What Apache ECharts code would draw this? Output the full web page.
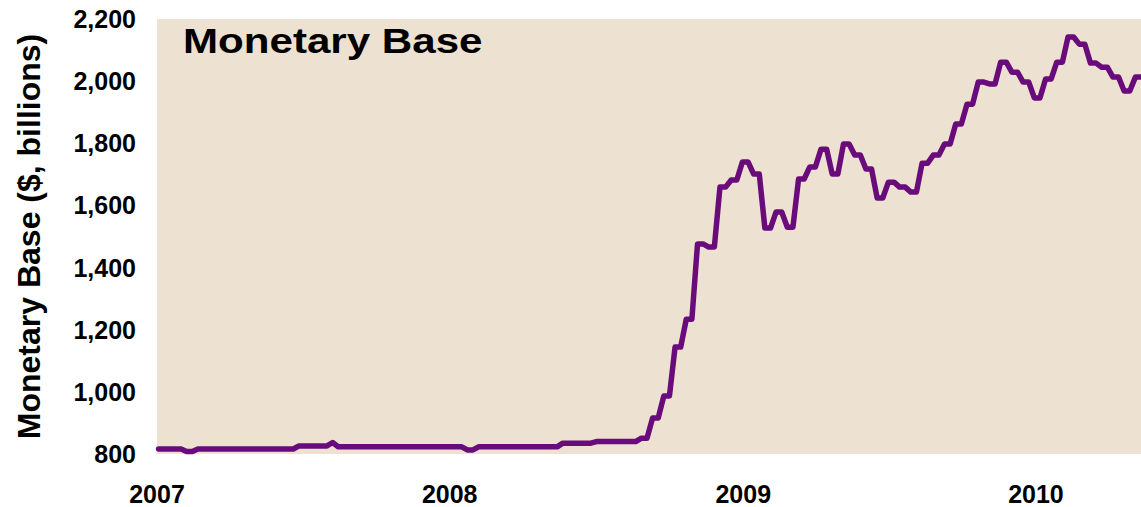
<!DOCTYPE html>
<html>
<head>
<meta charset="utf-8">
<script src="https://cdn.jsdelivr.net/npm/echarts@6/dist/echarts.min.js"></script>
<style>
  html, body { margin: 0; padding: 0; background: #ffffff; }
  #chart { width: 1141px; height: 507px; }
</style>
</head>
<body>
<div id="chart"></div>
<script>
// Weekly observations starting on the first Wednesday of 2007
const startDate = [2007, 0, 3];
const titleText = 'Monetary Base';
const yAxisTitle = 'Monetary Base ($, billions)';
const yTicks = [800, 1000, 1200, 1400, 1600, 1800, 2000, 2200];
const xYearLabels = ['2007', '2008', '2009', '2010'];

// Monetary base, $ billions (weekly)
const baseValues = [
  816, 816, 816, 816, 816, 808, 808, 816,
  816, 816, 816, 816, 816, 816, 816, 816, 816, 816, 816, 816, 816, 816, 816, 816, 816,
  826, 826, 826, 826, 826, 826, 837,
  823, 823, 823, 823, 823, 823, 823, 823, 823, 823, 823, 823, 823, 823, 823, 823, 823, 823, 823, 823, 823, 823, 823,
  813, 813,
  823, 823, 823, 823, 823, 823, 823, 823, 823, 823, 823, 823, 823, 823, 823,
  835, 835, 835, 835, 835, 835,
  840, 840, 840, 840, 840, 840, 840, 840,
  851, 851,
  916, 916, 987, 987, 1144, 1144, 1234, 1234,
  1476, 1476, 1466, 1466, 1659, 1659, 1682, 1682,
  1740, 1740, 1701, 1701, 1527, 1527, 1579, 1579,
  1530, 1530, 1685, 1685, 1724, 1724, 1781, 1781,
  1701, 1701, 1798, 1798, 1762, 1762, 1717, 1717,
  1624, 1624, 1675, 1675, 1659, 1659, 1643, 1643,
  1736, 1736, 1762, 1762, 1798, 1798, 1862, 1862,
  1926, 1926, 1997, 1997, 1991, 1991, 2061, 2061,
  2029, 2029, 1997, 1997, 1946, 1946, 2007, 2007,
  2061, 2061, 2142, 2142, 2119, 2119, 2058, 2058,
  2045, 2045, 2013, 2013, 1968, 1968, 2013, 2013
];

function weekDate(i) {
  const d = new Date(startDate[0], startDate[1], startDate[2] + 7 * i);
  return d.getFullYear() + '-' + String(d.getMonth() + 1).padStart(2, '0') + '-' + String(d.getDate()).padStart(2, '0');
}
const weeks = baseValues.map((_, i) => weekDate(i));
const seriesData = weeks.map((d, i) => [d, baseValues[i]]);

const chart = echarts.init(document.getElementById('chart'), null, { renderer: 'svg' });
const FONT = '"Liberation Sans", Arial, Helvetica, sans-serif';

chart.setOption({
  backgroundColor: '#ffffff',
  animation: false,
  grid: {
    left: 157, right: 0, top: 19, bottom: 53,
    show: true, backgroundColor: '#ede2d1', borderWidth: 0
  },
  graphic: [{
    type: 'text',
    x: 183, y: 23,
    scaleX: 1.17,
    style: {
      text: titleText,
      fill: '#000000',
      font: 'bold 36px ' + FONT,
      textVerticalAlign: 'top'
    },
    z: 10
  }],
  xAxis: {
    type: 'time',
    min: '2007-01-01',
    max: '2010-05-12',
    minInterval: 365 * 24 * 3600 * 1000,
    axisLine: { show: false },
    axisTick: { show: false },
    splitLine: { show: false },
    axisLabel: {
      margin: 27,
      showMaxLabel: false,
      color: '#000000',
      fontFamily: FONT,
      fontWeight: 'bold',
      fontSize: 25,
      formatter: function (val) {
        const d = new Date(val);
        if (d.getMonth() === 0 && d.getDate() === 1) {
          const s = String(d.getFullYear());
          return xYearLabels.indexOf(s) >= 0 ? s : '';
        }
        return '';
      }
    }
  },
  yAxis: {
    type: 'value',
    min: yTicks[0],
    max: yTicks[yTicks.length - 1],
    interval: 200,
    name: yAxisTitle,
    nameLocation: 'middle',
    nameGap: 112,
    nameTextStyle: {
      color: '#000000',
      fontFamily: FONT,
      fontWeight: 'bold',
      fontSize: 32
    },
    axisLine: { show: false },
    axisTick: { show: false },
    splitLine: { show: false },
    axisLabel: {
      margin: 21,
      color: '#000000',
      fontFamily: FONT,
      fontWeight: 'bold',
      fontSize: 25,
      formatter: function (v) { return v.toLocaleString('en-US'); }
    }
  },
  series: [{
    type: 'line',
    data: seriesData,
    showSymbol: false,
    symbol: 'none',
    smooth: false,
    clip: true,
    lineStyle: { color: '#6a0b7b', width: 5.5, cap: 'round', join: 'round' }
  }]
});
</script>
</body>
</html>
